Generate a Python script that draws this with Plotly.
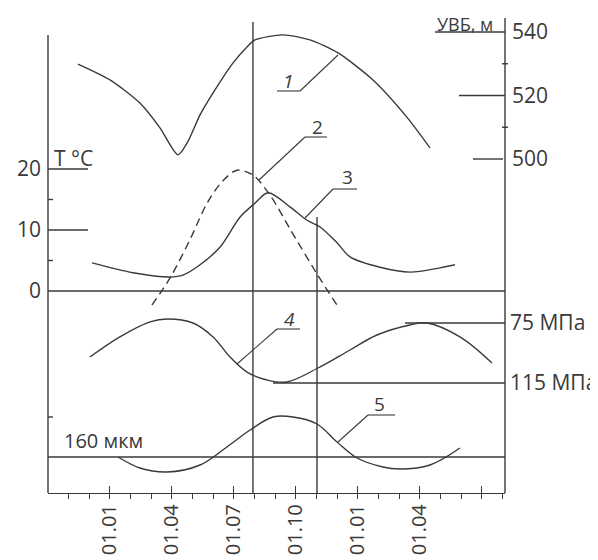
import plotly.graph_objects as go

# ---------------- data (months counted from 01.10 of the previous year) -------------
# Curve 1: groundwater level, m (right axis)
c1_month = [1.45, 3.00, 4.45, 5.42, 6.29, 6.73, 7.36, 7.99, 8.95, 9.63, 10.02, 11.37, 12.68, 14.04, 15.73, 17.37, 18.49]
c1_level = [529.9, 524.9, 517.6, 509.8, 501.3, 505.0, 513.9, 520.8, 530.2, 535.3, 537.5, 539.1, 537.5, 533.4, 524.9, 513.2, 503.5]

# Curve 2 (dashed): temperature, °C
c2_month = [5.03, 5.90, 6.87, 7.70, 8.42, 9.15, 9.92, 10.75, 11.71, 13.02, 13.99]
c2_temp = [-2.3, 2.1, 8.4, 14.4, 17.9, 19.8, 19.0, 15.7, 10.2, 2.8, -2.3]

# Curve 3: temperature, °C
c3_month = [2.13, 4.11, 5.90, 6.53, 7.36, 8.33, 9.29, 10.02, 10.65, 11.71, 12.54, 13.17, 13.99, 14.62, 16.07, 17.52, 18.97, 19.70]
c3_temp = [4.6, 3.0, 2.3, 2.6, 4.3, 7.2, 12.1, 14.4, 16.1, 13.8, 11.6, 10.5, 7.9, 5.6, 3.9, 3.1, 3.8, 4.3]

# Curve 4: stress, MPa
c4_month = [2.03, 3.48, 4.94, 5.76, 7.02, 7.99, 8.81, 9.63, 10.60, 11.57, 13.07, 14.62, 15.92, 17.52, 18.34, 19.94, 21.49]
c4_mpa = [97.7, 84.3, 74.3, 72.3, 75.0, 84.3, 97.7, 107.7, 113.0, 114.3, 105.0, 93.0, 83.0, 76.3, 75.0, 84.3, 101.7]

# Curve 5: displacement, µm
c5_month = [3.39, 4.45, 5.76, 7.36, 8.66, 9.78, 10.89, 11.86, 13.02, 13.99, 14.96, 16.21, 17.04, 18.49, 19.94]
c5_um = [160, 149, 145, 152, 170, 187, 200, 200, 193, 175, 159, 150, 148, 152, 169]

# Axis ticks / labels
x_tickvals = [3, 6, 9, 12, 15, 18, 21]
x_ticktext = ["01.01", "01.04", "01.07", "01.10", "01.01", "01.04", ""]
t_tickvals = [0, 10, 20]
t_ticktext = ["0", "10", "20"]
u_tickvals = [500, 520, 540]
u_ticktext = ["500", "520", "540"]
p_tickvals = [75, 115]
p_ticktext = ["75 МПа", "115 МПа"]
um_level = 160
vline_months = [9.92, 13.02]

# ---------------- layout geometry (page pixels; the page body has an 8 px margin) --------
OFF = 8
W, H = 598 - OFF, 560 - OFF
PX_L, PX_R, PX_T, PX_B = 48, 505, 18, 493
MONTH_PX = 20.66


def px(xp):
    return (xp - PX_L) / (PX_R - PX_L)


def py(yp):
    return (PX_B - yp) / (PX_B - PX_T)


x_max = (PX_R - PX_L) / MONTH_PX
# value-to-pixel scales of each vertical axis
t_rng = [(291 - PX_B) / 6.1, (291 - PX_T) / 6.1]
u_rng = [540 - (PX_B - 32) / 3.175, 540 - (PX_T - 32) / 3.175]
p_rng = [75 + (PX_B - 323) / 1.5, 75 + (PX_T - 323) / 1.5]
v_rng = [160 + (457 - PX_B), 160 + (457 - PX_T)]

INK = "#3a3a3a"
LW = 1.4
FONT = "Open Sans"

fig = go.Figure()
fig.add_trace(go.Scatter(x=c1_month, y=c1_level, yaxis="y2", mode="lines",
                         line=dict(color=INK, width=LW, shape="spline", smoothing=0.7)))
fig.add_trace(go.Scatter(x=c2_month, y=c2_temp, yaxis="y", mode="lines",
                         line=dict(color=INK, width=LW, shape="spline", smoothing=0.9, dash="8px,5px")))
fig.add_trace(go.Scatter(x=c3_month, y=c3_temp, yaxis="y", mode="lines",
                         line=dict(color=INK, width=LW, shape="spline", smoothing=0.9)))
fig.add_trace(go.Scatter(x=c4_month, y=c4_mpa, yaxis="y3", mode="lines",
                         line=dict(color=INK, width=LW, shape="spline", smoothing=1.0)))
fig.add_trace(go.Scatter(x=c5_month, y=c5_um, yaxis="y4", mode="lines",
                         line=dict(color=INK, width=LW, shape="spline", smoothing=1.0)))

shapes = []


def seg(x0, y0, x1, y1, xref="paper", yref="paper", w=LW):
    shapes.append(dict(type="line", x0=x0, y0=y0, x1=x1, y1=y1, xref=xref, yref=yref,
                       line=dict(color=INK, width=w)))


# axis lines
seg(0, py(35), 0, 0)
seg(1, 0, 1, 1)
# zero line of temperature
seg(0, 0, 1, 0, yref="y")
# temperature ticks
for v in [10, 20]:
    seg(0, v, px(88), v, yref="y")
for v in [5, 15]:
    seg(0, v, px(53), v, yref="y")
seg(0, py(417), px(53), py(417))
# level axis ticks
seg(px(435), 540, 1, 540, yref="y2")
seg(px(459), 520, 1, 520, yref="y2")
seg(px(473), 500, px(503), 500, yref="y2")
for v in [530, 510]:
    seg(px(502), v, px(508), v, yref="y2")
# reference levels
seg(17.28, 75, x_max, 75, xref="x", yref="y3")
seg(10.89, 115, x_max, 115, xref="x", yref="y3")
seg(-0.1, um_level, x_max, um_level, xref="x", yref="y4")
# vertical date lines
seg(vline_months[0], 0, vline_months[0], py(22), xref="x")
seg(vline_months[1], 0, vline_months[1], py(217), xref="x")

# curve number labels with leaders
labels = [
    ("1", 288, 81, (277, 91, 300, 91), (300, 91, 338, 55), "italic"),
    ("2", 317, 127, (305, 137, 327, 137), (305, 137, 259, 180), "normal"),
    ("3", 347, 177, (333, 189, 357, 189), (333, 189, 305, 218), "normal"),
    ("4", 289, 319, (277, 329, 300, 329), (277, 329, 237, 364), "italic"),
    ("5", 379, 404, (368, 415, 395, 415), (368, 415, 338, 442), "normal"),
]
annotations = []
for txt, tx, ty, ul, ld, style in labels:
    seg(px(ul[0]), py(ul[1]), px(ul[2]), py(ul[3]), w=1.1)
    seg(px(ld[0]), py(ld[1]), px(ld[2]), py(ld[3]), w=1.1)
    annotations.append(dict(text=txt, x=px(tx), y=py(ty), xref="paper", yref="paper",
                            xanchor="center", yanchor="middle",
                            showarrow=False, font=dict(family=FONT, size=19, color=INK, style=style)))

annotations += [
    dict(text="T °C", x=px(73), y=py(158), xref="paper", yref="paper", showarrow=False,
         xanchor="center", yanchor="middle", font=dict(family=FONT, size=21, color=INK)),
    dict(text="УВБ, м", x=px(465), y=py(24), xref="paper", yref="paper", showarrow=False,
         xanchor="center", yanchor="middle", font=dict(family=FONT, size=18, color=INK)),
    dict(text="160 мкм", x=px(62), y=um_level, xref="paper", yref="y4", xanchor="left",
         yanchor="bottom", yshift=1, showarrow=False, font=dict(family=FONT, size=20, color=INK)),
]

tickfont = dict(family=FONT, size=20, color=INK)

fig.update_layout(
    width=W, height=H,
    autosize=False,
    margin=dict(l=PX_L - OFF, r=598 - PX_R, t=PX_T - OFF, b=560 - PX_B, pad=0, autoexpand=False),
    paper_bgcolor="white", plot_bgcolor="white",
    showlegend=False,
    shapes=shapes,
    annotations=annotations,
    xaxis=dict(range=[0, x_max], showgrid=False, zeroline=False, automargin=False,
               showline=True, linecolor=INK, linewidth=LW,
               tickmode="array", tickvals=x_tickvals, ticktext=x_ticktext,
               ticks="inside", ticklen=7, tickwidth=1.4, tickcolor=INK,
               tickangle=-90, tickfont=tickfont, ticklabelstandoff=2,
               minor=dict(tickmode="linear", tick0=0, dtick=1, ticks="outside",
                          ticklen=5, tickwidth=1.2, tickcolor=INK, showgrid=False)),
    yaxis=dict(range=t_rng, showgrid=False, zeroline=False, showline=False, automargin=False,
               tickmode="array", tickvals=t_tickvals, ticktext=t_ticktext,
               ticks="", tickfont=dict(family=FONT, size=21, color=INK), ticklabelstandoff=6),
    yaxis2=dict(range=u_rng, overlaying="y", side="right", anchor="x", automargin=False,
                showgrid=False, zeroline=False, showline=False,
                tickmode="array", tickvals=u_tickvals, ticktext=u_ticktext,
                ticks="", tickfont=dict(family=FONT, size=21, color=INK), ticklabelstandoff=6),
    yaxis3=dict(range=p_rng, overlaying="y", side="right", anchor="x", automargin=False,
                showgrid=False, zeroline=False, showline=False,
                tickmode="array", tickvals=p_tickvals, ticktext=p_ticktext,
                ticks="", tickfont=dict(family=FONT, size=21, color=INK), ticklabelstandoff=4),
    yaxis4=dict(range=v_rng, overlaying="y", visible=False, automargin=False),
)

fig.write_html("out.html")
